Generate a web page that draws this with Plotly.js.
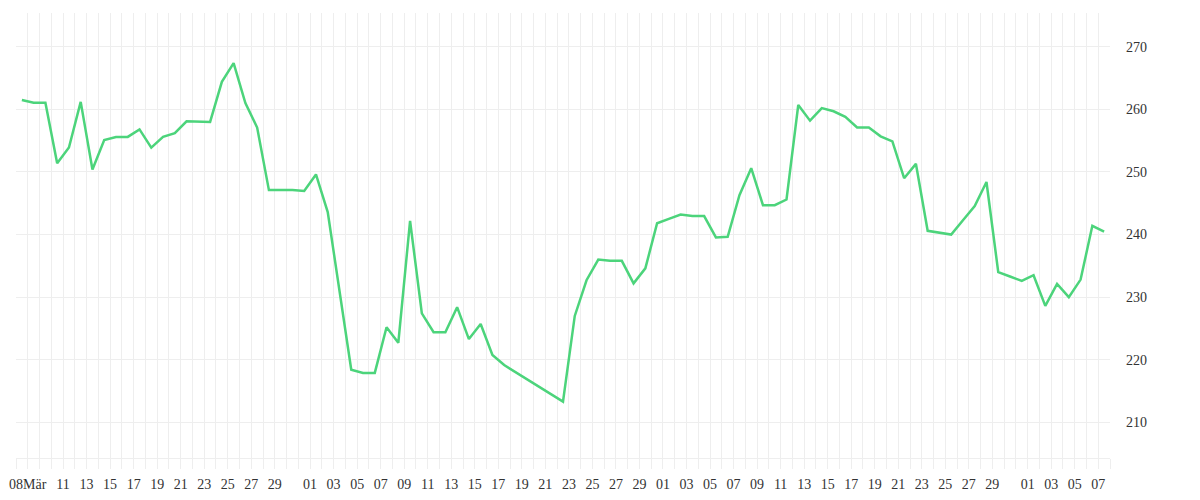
<!DOCTYPE html>
<html>
<head>
<meta charset="utf-8">
<script src="https://cdn.plot.ly/plotly-3.0.1.min.js"></script>
<style>html,body{margin:0;padding:0;background:#fff;}#chart{width:1200px;height:500px;}</style>
</head>
<body>
<div id="chart"></div>
<script>
// Series: one value per date (daily closing-like values)
const dates = [
  "2021-03-07","2021-03-08","2021-03-09","2021-03-10","2021-03-11","2021-03-12","2021-03-13",
  "2021-03-14","2021-03-15","2021-03-16","2021-03-17","2021-03-18","2021-03-19","2021-03-20",
  "2021-03-21","2021-03-22","2021-03-23","2021-03-24","2021-03-25","2021-03-26","2021-03-27",
  "2021-03-28","2021-03-29","2021-03-30","2021-03-31","2021-04-01","2021-04-02","2021-04-03",
  "2021-04-04","2021-04-05","2021-04-06","2021-04-07","2021-04-08","2021-04-09","2021-04-10",
  "2021-04-11","2021-04-12","2021-04-13","2021-04-14","2021-04-15","2021-04-16","2021-04-17",
  "2021-04-22","2021-04-23","2021-04-24","2021-04-25","2021-04-26","2021-04-27","2021-04-28",
  "2021-04-29","2021-04-30","2021-05-01","2021-05-02","2021-05-03","2021-05-04","2021-05-05",
  "2021-05-06","2021-05-07","2021-05-08","2021-05-09","2021-05-10","2021-05-11","2021-05-12",
  "2021-05-13","2021-05-14","2021-05-15","2021-05-16","2021-05-17","2021-05-18","2021-05-19",
  "2021-05-20","2021-05-21","2021-05-22","2021-05-23","2021-05-24","2021-05-25","2021-05-26",
  "2021-05-27","2021-05-28","2021-05-29","2021-05-30","2021-05-31","2021-06-01","2021-06-02",
  "2021-06-03","2021-06-04","2021-06-05","2021-06-06","2021-06-07"
];
const values = [
  261.5, 261.05, 261.05, 251.4, 253.9, 261.2, 250.4,
  255.1, 255.6, 255.6, 256.8, 253.9, 255.6, 256.2,
  258.1, 258.0, 258.0, 264.4, 267.4, 261.0, 257.1,
  247.1, 247.1, 247.1, 246.95, 249.6, 243.6, 231.0,
  218.4, 217.9, 217.9, 225.2, 222.7, 242.2, 227.4,
  224.4, 224.4, 228.4, 223.3, 225.7, 220.75, 219.15,
  213.3, 227.0, 232.7, 236.0, 235.8, 235.8, 232.2,
  234.6, 241.8, 242.5, 243.2, 242.95, 242.95, 239.55,
  239.65, 246.3, 250.6, 244.7, 244.7, 245.6, 260.7,
  258.2, 260.2, 259.7, 258.8, 257.1, 257.1, 255.7,
  254.9, 249.0, 251.3, 240.6, 240.3, 240.0, 242.3,
  244.55, 248.4, 234.0, 233.3, 232.6, 233.5, 228.6,
  232.1, 230.0, 232.8, 241.4, 240.45
];

// Axis: labelled days and their label text
const labelDates = [
  "2021-03-08","2021-03-11","2021-03-13","2021-03-15","2021-03-17","2021-03-19","2021-03-21",
  "2021-03-23","2021-03-25","2021-03-27","2021-03-29",
  "2021-04-01","2021-04-03","2021-04-05","2021-04-07","2021-04-09","2021-04-11","2021-04-13",
  "2021-04-15","2021-04-17","2021-04-19","2021-04-21","2021-04-23","2021-04-25","2021-04-27",
  "2021-04-29",
  "2021-05-01","2021-05-03","2021-05-05","2021-05-07","2021-05-09","2021-05-11","2021-05-13",
  "2021-05-15","2021-05-17","2021-05-19","2021-05-21","2021-05-23","2021-05-25","2021-05-27",
  "2021-05-29",
  "2021-06-01","2021-06-03","2021-06-05","2021-06-07"
];
const labelTexts = [
  "08Mär","11","13","15","17","19","21","23","25","27","29",
  "01","03","05","07","09","11","13","15","17","19","21","23","25","27","29",
  "01","03","05","07","09","11","13","15","17","19","21","23","25","27","29",
  "01","03","05","07"
];
const yTicks = [210, 220, 230, 240, 250, 260, 270];
const xStart = "2021-03-07", xEnd = "2021-06-08";

// daily ticks (grid every day), label only on labelled days
const tickvals = [], ticktext = [];
{
  const d = new Date(xStart + "T00:00:00Z");
  const end = new Date(xEnd + "T00:00:00Z");
  while (d <= end) {
    const s = d.toISOString().slice(0, 10);
    tickvals.push(s);
    const i = labelDates.indexOf(s);
    ticktext.push(i >= 0 ? labelTexts[i] : "");
    d.setUTCDate(d.getUTCDate() + 1);
  }
}

const grid = "#eeeeee";
const tickFont = {family: "Liberation Serif, Times New Roman, serif", size: 14, color: "#333333"};

const trace = {
  type: "scatter",
  mode: "lines",
  x: dates.map(s => s + " 12:00"),
  y: values,
  line: {color: "#4cd47b", width: 2.5},
  hoverinfo: "skip"
};

const layout = {
  width: 1200, height: 500,
  margin: {l: 16, r: 90, t: 13, b: 42, pad: 0},
  paper_bgcolor: "#ffffff", plot_bgcolor: "#ffffff",
  showlegend: false,
  xaxis: {
    type: "date",
    range: [xStart, xEnd],
    tickmode: "array", tickvals: tickvals, ticktext: ticktext,
    showgrid: true, gridcolor: grid, gridwidth: 1,
    ticks: "outside", ticklen: 10, tickcolor: grid, tickwidth: 1,
    showline: true, linecolor: grid, linewidth: 1,
    zeroline: false, tickangle: 0,
    tickfont: tickFont, ticklabelstandoff: 3
  },
  yaxis: {
    side: "right",
    range: [204.3, 275.4],
    tickmode: "array", tickvals: yTicks,
    showgrid: true, gridcolor: grid, gridwidth: 1,
    ticks: "", showline: false, zeroline: false,
    tickfont: tickFont, ticklabelstandoff: 15
  }
};

Plotly.newPlot("chart", [trace], layout, {displayModeBar: false, staticPlot: true});
</script>
</body>
</html>
